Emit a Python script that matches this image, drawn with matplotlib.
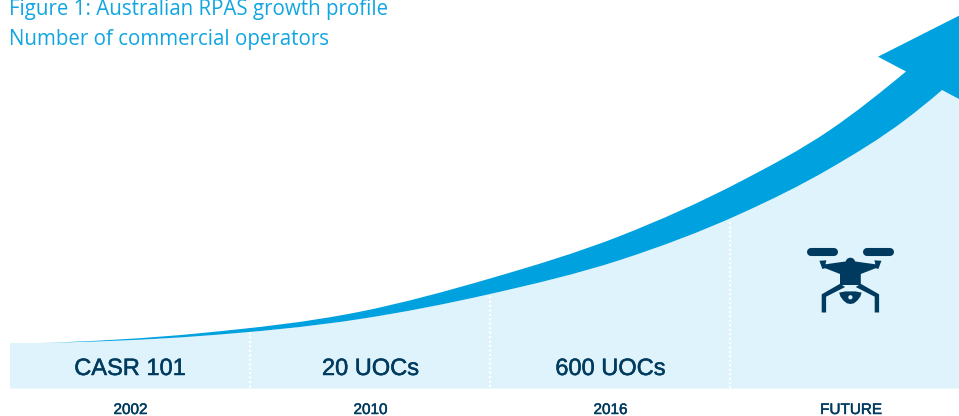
import matplotlib
matplotlib.use("Agg")
import matplotlib.pyplot as plt
import matplotlib.patheffects as pe
from matplotlib.patches import Polygon, Circle, PathPatch
from matplotlib.path import Path

# --- values (pixel positions of the illustration) ---
title_lines = ["Figure 1: Australian RPAS growth profile", "Number of commercial operators"]
stage_labels = ["CASR 101", "20 UOCs", "600 UOCs"]
stage_centers = [130, 370.5, 610.5]
period_labels = ["2002", "2010", "2016", "FUTURE"]
period_centers = [130.5, 370.5, 610.5, 851]
divider_x = [250, 490, 730]
divider_top = [332, 296, 222]

upper_x = [40, 200, 360, 490, 620, 740, 830, 906]
upper_y = [343, 333.2, 311.7, 278.5, 236, 181.7, 130, 71.5]
lower_x = [40, 200, 360, 490, 620, 740, 830, 905, 942]
lower_y = [343, 336, 319, 294, 260, 214, 168.4, 120, 90]
head_x = [878, 959, 959]
head_y = [56.7, 15.7, 99]

BLUE = "#00A1DF"
PALE = "#DEF3FB"
NAVY = "#003B5F"
TITLE = "#11A6E1"


def curve_segments(xs, ys):
    """Cubic Bezier control points for a smooth curve through the read points."""
    n = len(xs)
    slopes = []
    for i in range(n):
        if i == 0:
            slopes.append((ys[1] - ys[0]) / (xs[1] - xs[0]) * 0.5)
        elif i == n - 1:
            slopes.append((ys[-1] - ys[-2]) / (xs[-1] - xs[-2]) * 1.08)
        else:
            h0, h1 = xs[i] - xs[i - 1], xs[i + 1] - xs[i]
            s0, s1 = (ys[i] - ys[i - 1]) / h0, (ys[i + 1] - ys[i]) / h1
            slopes.append((s0 * h1 + s1 * h0) / (h0 + h1))
    verts = []
    for i in range(n - 1):
        h = xs[i + 1] - xs[i]
        verts += [(xs[i] + h / 3, ys[i] + slopes[i] * h / 3),
                  (xs[i + 1] - h / 3, ys[i + 1] - slopes[i + 1] * h / 3),
                  (xs[i + 1], ys[i + 1])]
    return verts


def reversed_segments(xs, ys):
    v = [(xs[0], ys[0])] + curve_segments(xs, ys)
    return v[::-1][1:]


fig = plt.figure(figsize=(9.59, 4.16), dpi=100)
ax = fig.add_axes([0, 0, 1, 1])
ax.set_xlim(0, 959)
ax.set_ylim(416, 0)
ax.axis("off")

# pale area under the curve
lower_curve = curve_segments(lower_x, lower_y)
band_verts = [(10, 343), (lower_x[0], lower_y[0])] + lower_curve + [(959, 99), (959, 388.5), (10, 388.5), (10, 343)]
band_codes = [Path.MOVETO, Path.LINETO] + [Path.CURVE4] * len(lower_curve) + [Path.LINETO] * 3 + [Path.CLOSEPOLY]
ax.add_patch(PathPatch(Path(band_verts, band_codes), fc=PALE, ec="none", zorder=1))

# dotted dividers
for x, top in zip(divider_x, divider_top):
    ax.plot([x, x], [top, 388.5], color="white", lw=1.6,
            linestyle=(0, (1, 1)), dash_capstyle="butt", zorder=2)

# arrow
upper_curve = curve_segments(upper_x, upper_y)
back = reversed_segments(lower_x, lower_y)
arrow_verts = ([(upper_x[0], upper_y[0])] + upper_curve + list(zip(head_x, head_y))
               + [(lower_x[-1], lower_y[-1])] + back + [(upper_x[0], upper_y[0])])
arrow_codes = ([Path.MOVETO] + [Path.CURVE4] * len(upper_curve) + [Path.LINETO] * (len(head_x) + 1)
               + [Path.CURVE4] * len(back) + [Path.CLOSEPOLY])
ax.add_patch(PathPatch(Path(arrow_verts, arrow_codes), fc=BLUE, ec="none", zorder=3))

# drone icon (dx from its mirror axis x=850.4, y in pixels)
cx = 850.4
def mirrored(pts):
    return [(cx + dx, y) for dx, y in pts]
for sign in (-1, 1):
    ax.plot([cx + sign * 39.7, cx + sign * 16.7], [252, 252], color=NAVY, lw=5.8,
            solid_capstyle="round", zorder=4)
body = [(-31, 260.8), (-24, 260.3), (-25, 264.3), (-5, 261.5), (5, 261.5), (25, 264.3), (24, 260.3), (31, 260.8),
        (28, 269), (26.5, 268.5), (25, 268.3), (10.4, 274), (10.4, 285), (-10.4, 285), (-10.4, 274),
        (-25, 268.3), (-26.5, 268.5), (-28, 269)]
ax.add_patch(Polygon(mirrored(body), closed=True, fc=NAVY, ec="none", zorder=4))
ax.add_patch(Circle((cx, 262.5), 4.8, fc=NAVY, ec="none", zorder=4))
for s in (-1, 1):
    leg = [(s * 10.4, 283.8), (s * 28.7, 294.3), (s * 28.7, 312.5), (s * 24.3, 312.5), (s * 24.3, 296.7),
           (s * 5.3, 287)]
    ax.add_patch(Polygon(mirrored(leg), closed=True, fc=NAVY, ec="none", zorder=4))
cam = [(-11.2, 292.6), (-5, 291.4), (5, 291.4), (11.2, 292.6), (10, 296.5), (7, 300.5), (3.5, 303.3), (0, 304),
       (-3.5, 303.3), (-7, 300.5), (-10, 296.5)]
ax.add_patch(Polygon(mirrored(cam), closed=True, fc=NAVY, ec="none", zorder=4))
ax.add_patch(Circle((cx, 297.3), 2.1, fc=PALE, ec="none", zorder=5))

# text
for y, line in zip([14.5, 45.5], title_lines):
    ax.text(9, y, line, color=TITLE, fontsize=14.8, family="Open Sans", va="baseline", ha="left", zorder=6)
stroke = [pe.withStroke(linewidth=0.35, foreground=NAVY)]
for x, label in zip(stage_centers, stage_labels):
    ax.text(x, 375, label, color=NAVY, fontsize=17, family="Liberation Sans", ha="center", va="baseline",
            zorder=6, path_effects=stroke)
for x, label in zip(period_centers, period_labels):
    ax.text(x, 414, label, color=NAVY, fontsize=11, family="Liberation Sans",
            ha="center", va="baseline", zorder=6, path_effects=stroke)

fig.savefig("out.png", dpi=100)
